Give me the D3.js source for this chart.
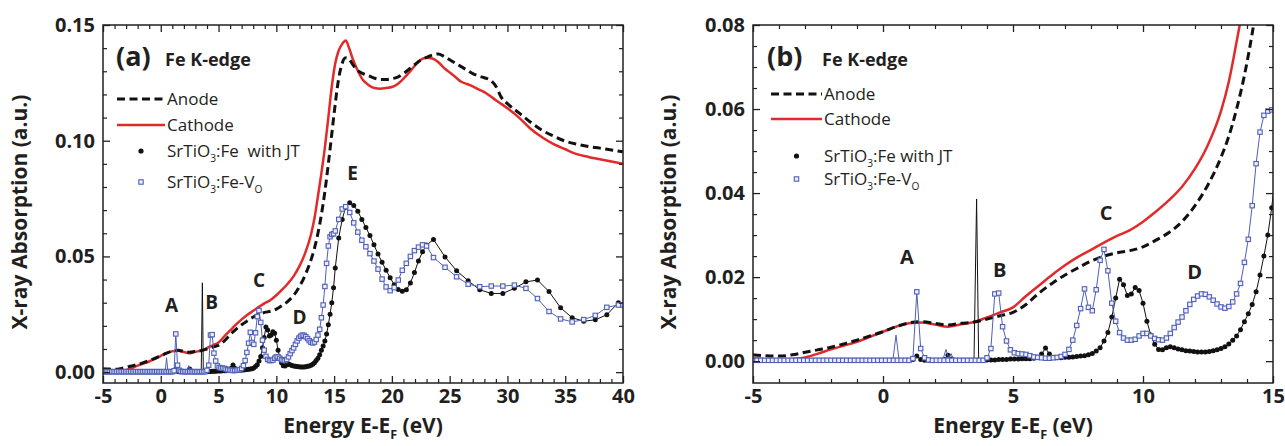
<!DOCTYPE html>
<html>
<head>
<meta charset="utf-8">
<script src="https://cdn.jsdelivr.net/npm/d3@7"></script>
<style>
  body { margin: 0; background: #fff; }
  svg text { font-family: "Open Sans", "DejaVu Sans", sans-serif; fill: #231f20; }
</style>
</head>
<body>
<svg id="chart" width="1285" height="446"></svg>
<script>
// ---------- measured spectra (Anode / Cathode), absorption vs E-EF in eV ----------
const expEnergy = [
  -5.0,-4.5,-4.0,-3.5,-3.0,-2.5,-2.0,-1.5,-1.0,-0.5,
  0.0,0.5,1.0,1.5,2.0,2.5,3.0,3.5,4.0,4.5,
  5.0,5.5,6.0,6.5,7.0,7.5,8.0,8.5,9.0,9.5,
  10.0,10.5,11.0,11.5,12.0,12.5,13.0,13.3,13.6,13.9,
  14.2,14.5,14.8,15.1,15.4,15.7,16.0,16.3,16.6,17.0,
  17.5,18.0,18.5,19.0,19.5,20.0,20.5,21.0,21.5,22.0,
  22.5,23.0,23.5,24.0,24.5,25.0,25.5,26.0,26.5,27.0,
  27.5,28.0,28.5,29.0,29.5,30.0,31.0,32.0,33.0,34.0,
  35.0,36.0,37.0,38.0,39.0,40.0
];
const anodeValues = [
  0.0015,0.0013,0.0012,0.0015,0.0021,0.0027,0.0033,0.0041,0.0050,0.0060,
  0.0070,0.0082,0.0091,0.0094,0.0090,0.0086,0.0090,0.0093,0.0100,0.0108,
  0.0116,0.0135,0.0162,0.0185,0.0205,0.0222,0.0238,0.0250,0.0258,0.0263,
  0.0272,0.0288,0.0306,0.0332,0.0370,0.0420,0.0485,0.0535,0.0600,0.0680,
  0.0780,0.0900,0.1030,0.1160,0.1270,0.1335,0.1358,0.1352,0.1330,0.1305,
  0.1290,0.1280,0.1270,0.1265,0.1265,0.1268,0.1275,0.1290,0.1310,0.1330,
  0.1348,0.1360,0.1370,0.1375,0.1365,0.1350,0.1335,0.1320,0.1305,0.1290,
  0.1280,0.1272,0.1262,0.1235,0.1185,0.1160,0.1120,0.1080,0.1045,0.1020,
  0.0998,0.0985,0.0975,0.0968,0.0960,0.0952
];
const cathodeValues = [
  0.0007,0.0004,0.0002,0.0005,0.0009,0.0018,0.0028,0.0037,0.0046,0.0058,
  0.0070,0.0082,0.0090,0.0092,0.0087,0.0082,0.0088,0.0093,0.0104,0.0116,
  0.0128,0.0155,0.0180,0.0205,0.0228,0.0248,0.0265,0.0282,0.0298,0.0312,
  0.0332,0.0356,0.0383,0.0415,0.0458,0.0515,0.0595,0.0665,0.0760,0.0860,
  0.0970,0.1100,0.1235,0.1335,0.1390,0.1418,0.1433,0.1400,0.1355,0.1308,
  0.1262,0.1240,0.1228,0.1225,0.1228,0.1232,0.1245,0.1268,0.1295,0.1325,
  0.1350,0.1358,0.1355,0.1340,0.1315,0.1295,0.1275,0.1255,0.1245,0.1235,
  0.1222,0.1210,0.1193,0.1175,0.1158,0.1140,0.1100,0.1052,0.1015,0.0985,
  0.0963,0.0942,0.0930,0.0920,0.0910,0.0900
];

// ---------- calculated spectra (SrTiO3:Fe with JT, SrTiO3:Fe-VO) ----------
const simEnergy = [
  -5.00,-4.85,-4.70,-4.55,-4.40,-4.25,-4.10,-3.95,-3.80,-3.65,
  -3.50,-3.35,-3.20,-3.05,-2.90,-2.75,-2.60,-2.45,-2.30,-2.15,
  -2.00,-1.85,-1.70,-1.55,-1.40,-1.25,-1.10,-0.95,-0.80,-0.65,
  -0.50,-0.35,-0.20,-0.05,0.10,0.25,0.40,0.55,0.70,0.85,
  1.00,1.15,1.30,1.45,1.60,1.75,1.90,2.05,2.20,2.35,
  2.50,2.65,2.80,2.95,3.10,3.25,3.40,3.55,3.70,3.85,
  4.00,4.15,4.30,4.45,4.60,4.75,4.90,5.05,5.20,5.35,
  5.50,5.65,5.80,5.95,6.10,6.25,6.40,6.55,6.70,6.85,
  7.00,7.15,7.30,7.45,7.60,7.75,7.90,8.05,8.20,8.35,
  8.50,8.65,8.80,8.95,9.10,9.25,9.40,9.55,9.70,9.85,
  10.00,10.15,10.30,10.45,10.60,10.75,10.90,11.05,11.20,11.35,
  11.50,11.65,11.80,11.95,12.10,12.25,12.40,12.55,12.70,12.85,
  13.00,13.15,13.30,13.45,13.60,13.75,13.90,14.05,14.20,14.35,
  14.50,14.65,14.80,14.95,15.10,
  15.40,15.70,16.00,16.35,16.70,17.05,17.40,17.75,18.10,18.45,
  18.80,19.15,19.50,19.85,20.20,20.55,20.90,21.25,21.60,21.95,
  22.30,22.65,23.00,23.60,24.60,25.60,26.60,27.60,28.60,29.60,
  30.60,31.60,32.60,33.60,34.60,35.60,36.60,37.60,38.60,39.60,
  40.00
];
const jtValues = [
  0.0002,0.0002,0.0002,0.0002,0.0002,0.0002,0.0002,0.0002,0.0002,0.0002,
  0.0002,0.0002,0.0002,0.0002,0.0002,0.0002,0.0002,0.0002,0.0002,0.0002,
  0.0002,0.0002,0.0002,0.0002,0.0002,0.0002,0.0002,0.0002,0.0002,0.0002,
  0.0002,0.0002,0.0002,0.0002,0.0002,0.0002,0.0002,0.0002,0.0002,0.0002,
  0.0002,0.0004,0.0012,0.0004,0.0002,0.0002,0.0002,0.0002,0.0002,0.0004,
  0.0014,0.0005,0.0002,0.0002,0.0002,0.0002,0.0002,0.0002,0.0002,0.0002,
  0.0003,0.0003,0.0003,0.0004,0.0004,0.0004,0.0005,0.0005,0.0005,0.0006,
  0.0006,0.0006,0.0007,0.0009,0.0017,0.0031,0.0017,0.0009,0.0008,0.0008,
  0.0009,0.0009,0.0010,0.0011,0.0012,0.0013,0.0015,0.0018,0.0024,0.0032,
  0.0048,0.0068,0.0105,0.0150,0.0195,0.0182,0.0156,0.0160,0.0175,0.0168,
  0.0138,0.0095,0.0062,0.0040,0.0028,0.0027,0.0032,0.0034,0.0032,0.0029,
  0.0027,0.0025,0.0024,0.0023,0.0022,0.0022,0.0022,0.0023,0.0025,0.0027,
  0.0030,0.0034,0.0041,0.0050,0.0060,0.0075,0.0094,0.0113,0.0135,0.0165,
  0.0205,0.0250,0.0300,0.0365,0.0450,
  0.0580,0.0660,0.0712,0.0732,0.0720,0.0695,0.0660,0.0625,0.0590,0.0550,
  0.0510,0.0475,0.0440,0.0408,0.0378,0.0357,0.0350,0.0356,0.0385,0.0430,
  0.0480,0.0520,0.0549,0.0573,0.0498,0.0438,0.0395,0.0356,0.0340,0.0340,
  0.0362,0.0390,0.0398,0.0348,0.0278,0.0235,0.0220,0.0226,0.0248,0.0300,
  0.0290
];
const voValues = [
  0.0002,0.0002,0.0002,0.0002,0.0002,0.0002,0.0002,0.0002,0.0002,0.0002,
  0.0002,0.0002,0.0002,0.0002,0.0002,0.0002,0.0002,0.0002,0.0002,0.0002,
  0.0002,0.0002,0.0002,0.0002,0.0002,0.0002,0.0002,0.0002,0.0002,0.0002,
  0.0002,0.0002,0.0002,0.0002,0.0002,0.0002,0.0002,0.0002,0.0002,0.0002,
  0.0002,0.0006,0.0165,0.0030,0.0008,0.0003,0.0002,0.0002,0.0002,0.0002,
  0.0002,0.0002,0.0002,0.0002,0.0002,0.0002,0.0002,0.0002,0.0002,0.0002,
  0.0008,0.0030,0.0160,0.0162,0.0082,0.0048,0.0027,0.0020,0.0018,0.0017,
  0.0016,0.0013,0.0010,0.0009,0.0008,0.0007,0.0007,0.0008,0.0009,0.0011,
  0.0016,0.0028,0.0050,0.0085,0.0125,0.0172,0.0128,0.0120,0.0170,0.0240,
  0.0266,0.0215,0.0138,0.0095,0.0068,0.0055,0.0050,0.0050,0.0052,0.0060,
  0.0066,0.0066,0.0060,0.0054,0.0051,0.0050,0.0055,0.0066,0.0080,0.0093,
  0.0105,0.0120,0.0135,0.0147,0.0155,0.0160,0.0159,0.0153,0.0145,0.0136,
  0.0129,0.0126,0.0130,0.0141,0.0160,0.0185,0.0235,0.0290,0.0370,0.0470,
  0.0545,0.0585,0.0595,0.0598,0.0610,
  0.0660,0.0705,0.0715,0.0690,0.0645,0.0605,0.0570,0.0542,0.0512,0.0480,
  0.0445,0.0402,0.0368,0.0352,0.0365,0.0398,0.0440,0.0470,0.0500,0.0525,
  0.0540,0.0550,0.0545,0.0495,0.0453,0.0412,0.0380,0.0369,0.0372,0.0372,
  0.0376,0.0362,0.0318,0.0262,0.0230,0.0217,0.0227,0.0245,0.0280,0.0290,
  0.0290
];
// narrow features of the calculated spectra, drawn as plain lines
const jtSharp = [[3.50, 0.0002], [3.60, 0.0386], [3.68, 0.0002]];
const voSharpA = [[0.38, 0.0002], [0.50, 0.0062], [0.62, 0.0002]];
const voSharpB = [[2.30, 0.0002], [2.42, 0.0028], [2.52, 0.0008], [2.62, 0.0018], [2.72, 0.0002]];

// ---------- axis ticks ----------
const aXTicks = [-5, 0, 5, 10, 15, 20, 25, 30, 35, 40];
const aYTicks = [0.00, 0.05, 0.10, 0.15];
const bXTicks = [-5, 0, 5, 10, 15];
const bYTicks = [0.00, 0.02, 0.04, 0.06, 0.08];

// peak labels
const aPeaks = ["A", "B", "C", "D", "E"];
const aPeakAt = [[0.93, 0.0290], [4.40, 0.0303], [8.50, 0.0398], [12.0, 0.0238], [16.6, 0.0859]];
const bPeaks = ["A", "B", "C", "D"];
const bPeakAt = [[0.92, 0.0248], [4.49, 0.0217], [8.58, 0.0352], [11.99, 0.0213]];

// ---------- styles ----------
const RED = "#e32a2a";
const BLUE = "#4f5fb8";
const INK = "#231f20";

const svg = d3.select("#chart");
const defs = svg.append("defs");

function richText(sel, x, y, parts, opts) {
  const t = sel.append("text")
    .attr("x", x).attr("y", y)
    .attr("text-anchor", opts.anchor || "start")
    .style("font-size", opts.size + "px")
    .style("font-weight", opts.weight || "normal");
  if (opts.rotate) t.attr("transform", `rotate(-90,${x},${y})`);
  let shift = 0;
  parts.forEach(([s, sub]) => {
    const ts = t.append("tspan").text(s);
    const target = sub ? opts.size * 0.3 : 0;
    if (target !== shift) { ts.attr("dy", target - shift); shift = target; }
    if (sub) ts.style("font-size", (opts.size * 0.6) + "px");
  });
  return t;
}

function square(sel, cx, cy, s) {
  return sel.append("rect")
    .attr("x", cx - s / 2).attr("y", cy - s / 2)
    .attr("width", s).attr("height", s)
    .attr("fill", "#eef0fa").attr("stroke", BLUE).attr("stroke-width", 1.1);
}

function drawPanel(cfg) {
  const x = d3.scaleLinear().domain(cfg.xDomain).range([cfg.left, cfg.right]);
  const y = d3.scaleLinear().domain(cfg.yDomain).range([cfg.bottom, cfg.top]);
  const g = svg.append("g");

  defs.append("clipPath").attr("id", "clip-" + cfg.id)
    .append("rect")
    .attr("x", cfg.left).attr("y", cfg.top)
    .attr("width", cfg.right - cfg.left).attr("height", cfg.bottom - cfg.top);
  const plot = g.append("g").attr("clip-path", `url(#clip-${cfg.id})`);

  const smooth = d3.line().x(d => x(d[0])).y(d => y(d[1])).curve(d3.curveMonotoneX);
  const straight = d3.line().x(d => x(d[0])).y(d => y(d[1]));

  const cathode = expEnergy.map((e, i) => [e, cathodeValues[i]]);
  const anode = expEnergy.map((e, i) => [e, anodeValues[i]]);
  const jt = simEnergy.map((e, i) => [e, jtValues[i]]);
  const vo = simEnergy.map((e, i) => [e, voValues[i]]);

  plot.append("path").datum(cathode).attr("d", smooth)
    .attr("fill", "none").attr("stroke", RED).attr("stroke-width", 2.5);
  plot.append("path").datum(anode).attr("d", smooth)
    .attr("fill", "none").attr("stroke", "#111").attr("stroke-width", 3)
    .attr("stroke-dasharray", "8,4.5");

  // SrTiO3:Fe with JT
  plot.append("path").datum(jt).attr("d", straight)
    .attr("fill", "none").attr("stroke", "#111").attr("stroke-width", 1);
  plot.append("path").datum(jtSharp).attr("d", straight)
    .attr("fill", "none").attr("stroke", "#111").attr("stroke-width", 1);
  plot.append("g").selectAll("circle").data(jt).join("circle")
    .attr("cx", d => x(d[0])).attr("cy", d => y(d[1])).attr("r", 2.5)
    .attr("fill", "#111");

  // SrTiO3:Fe-VO
  plot.append("path").datum(vo).attr("d", straight)
    .attr("fill", "none").attr("stroke", BLUE).attr("stroke-width", 1);
  [voSharpA, voSharpB].forEach(s => plot.append("path").datum(s).attr("d", straight)
    .attr("fill", "none").attr("stroke", BLUE).attr("stroke-width", 1));
  const sq = plot.append("g");
  vo.forEach(d => square(sq, x(d[0]), y(d[1]), 4.4));

  // frame and ticks
  const fmtX = d => String(d);
  const fmtY = d3.format(".2f");
  const axes = [
    { gen: d3.axisBottom(x), t: `translate(0,${cfg.bottom})`, major: cfg.xTicks, minor: cfg.xMinor, labels: true, fmt: fmtX, pad: 6 },
    { gen: d3.axisTop(x), t: `translate(0,${cfg.top})`, major: cfg.xTicks, minor: cfg.xMinor, labels: false },
    { gen: d3.axisLeft(y), t: `translate(${cfg.left},0)`, major: cfg.yTicks, minor: cfg.yMinor, labels: true, fmt: fmtY, pad: 8 },
    { gen: d3.axisRight(y), t: `translate(${cfg.right},0)`, major: cfg.yTicks, minor: cfg.yMinor, labels: false }
  ];
  axes.forEach(a => {
    const minorG = g.append("g").attr("transform", a.t)
      .call(a.gen.tickValues(a.minor).tickSize(-4).tickFormat(""));
    minorG.select(".domain").remove();
    minorG.selectAll("line").attr("stroke", INK).attr("stroke-width", 1.2);
    const majorG = g.append("g").attr("transform", a.t)
      .call(a.gen.tickValues(a.major).tickSize(-7).tickPadding(a.pad || 0)
        .tickFormat(a.labels ? a.fmt : ""));
    majorG.select(".domain").remove();
    majorG.selectAll("line").attr("stroke", INK).attr("stroke-width", 1.3);
    majorG.selectAll("text")
      .style("font-size", "20px").style("font-weight", "bold")
      .style("font-family", '"Open Sans", "DejaVu Sans", sans-serif')
      .attr("fill", INK);
  });
  g.append("rect")
    .attr("x", cfg.left).attr("y", cfg.top)
    .attr("width", cfg.right - cfg.left).attr("height", cfg.bottom - cfg.top)
    .attr("fill", "none").attr("stroke", INK).attr("stroke-width", 1.5);

  // axis titles
  richText(g, (cfg.left + cfg.right) / 2, 433,
    [["Energy E-E"], ["F", true], [" (eV)"]], { size: 21, weight: "bold", anchor: "middle" });
  richText(g, cfg.yTitleX, (cfg.top + cfg.bottom) / 2 + 8,
    [["X-ray Absorption (a.u.)"]], { size: 21, weight: "bold", anchor: "middle", rotate: true });

  // panel tag
  g.append("text").attr("x", cfg.tagX).attr("y", 66)
    .style("font-size", "27px").style("font-weight", "bold").text(cfg.tag);
  g.append("text").attr("x", cfg.edgeX).attr("y", 66)
    .style("font-size", "18px").style("font-weight", "bold").text("Fe K-edge");

  // legend
  const L = cfg.legend;
  g.append("line").attr("x1", L.x0).attr("x2", L.x1).attr("y1", L.rows[0]).attr("y2", L.rows[0])
    .attr("stroke", "#111").attr("stroke-width", 3).attr("stroke-dasharray", "8,4.5");
  g.append("line").attr("x1", L.x0).attr("x2", L.x1).attr("y1", L.rows[1]).attr("y2", L.rows[1])
    .attr("stroke", RED).attr("stroke-width", 2.5);
  g.append("circle").attr("cx", (L.x0 + L.x1) / 2).attr("cy", L.rows[2]).attr("r", 2.6).attr("fill", "#111");
  square(g, (L.x0 + L.x1) / 2, L.rows[3], 4.4);
  const ls = { size: 17 };
  richText(g, L.tx, L.rows[0] + 6, [["Anode"]], ls);
  richText(g, L.tx, L.rows[1] + 6, [["Cathode"]], ls);
  richText(g, L.tx, L.rows[2] + 6, [["SrTiO"], ["3", true], [cfg.jtText]], ls);
  richText(g, L.tx, L.rows[3] + 6, [["SrTiO"], ["3", true], [":Fe-V"], ["O", true]], ls);

  // peak letters
  cfg.peaks.forEach((p, i) => {
    g.append("text")
      .attr("x", x(cfg.peakAt[i][0])).attr("y", y(cfg.peakAt[i][1]))
      .attr("dy", "0.36em").attr("text-anchor", "middle")
      .style("font-size", cfg.peakSize + "px").style("font-weight", "bold")
      .attr("fill", "#333").text(p);
  });
}

drawPanel({
  id: "a", left: 103, right: 623, top: 25, bottom: 383,
  xDomain: [-5, 40], yDomain: [-0.0047, 0.15],
  xTicks: aXTicks, yTicks: aYTicks,
  xMinor: d3.range(-5, 40.5, 1).filter(v => v % 5 !== 0),
  yMinor: d3.range(1, 15).filter(v => v % 5 !== 0).map(v => v / 100),
  yTitleX: 27, tag: "(a)", tagX: 116, edgeX: 165,
  legend: { x0: 117, x1: 165, tx: 167, rows: [99, 125, 151, 182] },
  jtText: ":Fe\u00a0 with JT",
  peaks: aPeaks, peakAt: aPeakAt, peakSize: 19
});

drawPanel({
  id: "b", left: 753, right: 1273, top: 25, bottom: 383,
  xDomain: [-5, 15], yDomain: [-0.0052, 0.08],
  xTicks: bXTicks, yTicks: bYTicks,
  xMinor: d3.range(-5, 15.5, 1).filter(v => v % 5 !== 0),
  yMinor: d3.range(1, 16).filter(v => v % 4 !== 0).map(v => v * 0.005),
  yTitleX: 676, tag: "(b)", tagX: 767, edgeX: 822,
  legend: { x0: 771, x1: 822, tx: 824, rows: [94, 119, 156, 179] },
  jtText: ":Fe with JT",
  peaks: bPeaks, peakAt: bPeakAt, peakSize: 20
});
</script>
</body>
</html>
